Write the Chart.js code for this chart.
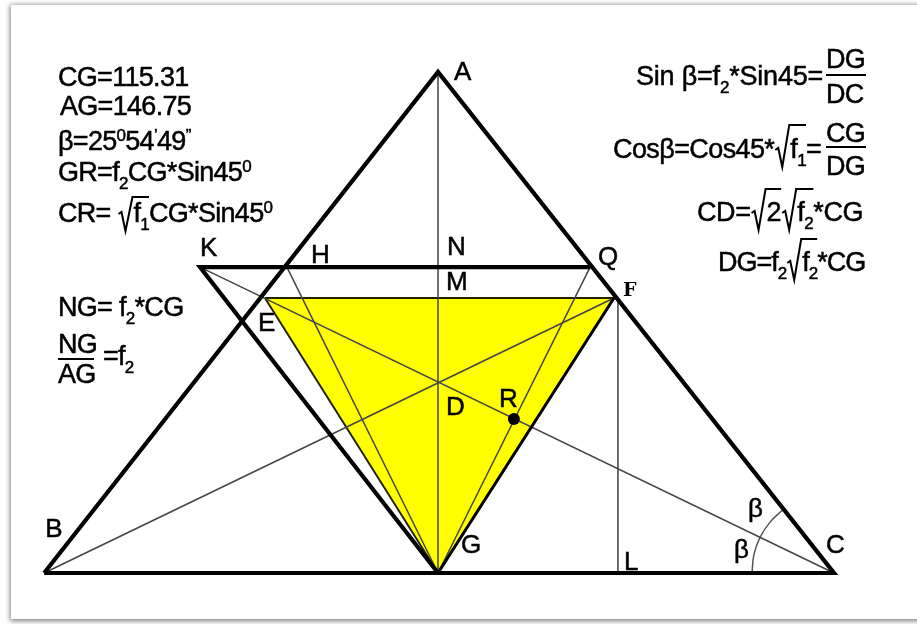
<!DOCTYPE html>
<html>
<head>
<meta charset="utf-8">
<script src="https://cdn.jsdelivr.net/npm/chart.js@4"></script>
<style>
  html, body { margin: 0; background: #fff; overflow: hidden; }
  #frame { position: absolute; left: 11px; top: 5px; width: 950px; height: 614px; background: #fff; box-shadow: 0 1px 5px 1px #808080; }
  #diagram { position: absolute; left: 0; top: 0; filter: blur(0.55px); }
</style>
</head>
<body>
<div id="frame"></div>
<canvas id="diagram" width="917" height="624"></canvas>
<script>
// ─────────────────────────────────────────────
// DATA (diagram units, G is the origin, CG = 115.31, AG = 146.75)
// ─────────────────────────────────────────────
const pointNames = ['A', 'B', 'C', 'G', 'L', 'K', 'H', 'N', 'Q', 'M', 'E', 'F', 'D', 'R'];
const pointX = [0, -114.7, 115.31, 0, 52.4, -69.3, -44, 0, 44.3, 0, -50.4, 51.25, 0, 22.1];
const pointY = [146.75, 0, 0, 0, 0, 89.6, 89.6, 89.6, 89.6, 80.55, 80.55, 80.55, 55.65, 45.1];

const outerPath = ['B', 'A', 'C', 'B'];
const parallelPath = ['Q', 'K', 'G'];
const innerPath = ['E', 'F', 'G', 'E'];
const rightEdge = ['F', 'G'];
const thinSegments = [['A', 'G'], ['K', 'C'], ['B', 'F'], ['H', 'G'], ['Q', 'G']];
const footX = [52.4, 52.4];
const footY = [80.55, 0];

const arcX = [91.44, 92.0, 93.8, 96.7, 100.2];
const arcY = [0, 5.4, 10.5, 14.9, 18.3];

const pointLabels = ['A', 'B', 'C', 'G', 'L', 'K', 'H', 'N', 'Q', 'M', 'E', 'D', 'R'];
const angleLabel = 'β';

const formulasLeft = [
    ['CG=115.31'],
    ['AG=146.75'],
    ['β=25', ['sup', '0'], '54', ['sup', '’'], '49', ['sup', '”']],
    ['GR=f', ['sub', '2'], 'CG*Sin45', ['sup', '0']],
    ['CR= ', ['rad', ['f', ['sub', '1']], 25], 'CG*Sin45', ['sup', '0']],
    ['NG= f', ['sub', '2'], '*CG'],
    ['=f', ['sub', '2']]
];
const formulasRight = [
    ['Sin', ' β=f', ['sub', '2'], '*Sin45='],
    ['Cosβ=Cos45*', ['rad', ['f', ['sub', '1']], 33], '='],
    ['CD=', ['rad', ['2'], 32], ['rad', ['f', ['sub', '2']], 32], '*CG'],
    ['DG=f', ['sub', '2'], ['rad', ['f', ['sub', '2']], 32], '*CG']
];
const fractions = [['DG', 'DC'], ['CG', 'DG'], ['NG', 'AG']];

function pt(name) {
    const i = pointNames.indexOf(name);
    return { x: pointX[i], y: pointY[i] };
}

// ─────────────────────────────────────────────
// TEXT HELPERS
// ─────────────────────────────────────────────
const FONT = '"Liberation Sans", Arial, sans-serif';

// a hair of stroke, the scanned letters are heavier than the plain face
function heavyText(ctx, text, x, y) {
    ctx.lineWidth = 0.5;
    ctx.fillText(text, x, y);
    ctx.strokeText(text, x, y);
}

function drawParts(ctx, x, y, parts, size) {
    parts.forEach(function (part) {
        if (typeof part === 'string') {
            ctx.font = size + 'px ' + FONT;
            heavyText(ctx, part, x, y);
            x += ctx.measureText(part).width;
        } else if (part[0] === 'sub' || part[0] === 'sup') {
            const small = Math.round(size * 0.64);
            ctx.font = small + 'px ' + FONT;
            heavyText(ctx, part[1], x, part[0] === 'sub' ? y + 8 : y - 9);
            x += ctx.measureText(part[1]).width;
        } else {
            // square root: hook, long stroke, then the bar over the contents
            const start = x;
            const inner = x + 16;
            const end = drawParts(ctx, inner, y, part[1], size);
            ctx.beginPath();
            ctx.lineWidth = 2;
            ctx.moveTo(start + 1, y - 8);
            ctx.lineTo(start + 4, y - 10);
            ctx.lineTo(start + 8, y + 9);
            ctx.lineTo(start + 15, y - part[2]);
            ctx.lineTo(end, y - part[2]);
            ctx.stroke();
            x = end;
        }
    });
    return x;
}

const labelPlugin = {
    id: 'labelPlugin',
    afterDatasetsDraw: function (chart) {
        const ctx = chart.ctx;
        const sx = chart.scales.x;
        const sy = chart.scales.y;
        const px = function (name) { return sx.getPixelForValue(pt(name).x); };
        const py = function (name) { return sy.getPixelForValue(pt(name).y); };

        ctx.save();
        ctx.fillStyle = '#000';
        ctx.strokeStyle = '#000';
        ctx.textAlign = 'left';
        ctx.textBaseline = 'alphabetic';
        ctx.letterSpacing = '-0.7px';

        // point letters
        const offsets = {
            A: [16, 8], B: [1, -36], C: [-8, -20], G: [23, -20], L: [6, -3],
            K: [0, -11], H: [24, -4], N: [9, -12], Q: [8, -2], M: [8, -8],
            E: [-7, 33], D: [8, 32], R: [-15, -12]
        };
        ctx.font = '26px ' + FONT;
        pointLabels.forEach(function (name) {
            heavyText(ctx, name, px(name) + offsets[name][0], py(name) + offsets[name][1]);
        });

        // F is set in another face in the original
        ctx.font = 'bold 19px "DejaVu Serif", serif';
        ctx.fillText('F', px('F') + 9, py('F') - 2);

        ctx.font = '26px ' + FONT;
        heavyText(ctx, angleLabel, px('C') - 86, py('C') - 56);
        heavyText(ctx, angleLabel, px('C') - 100, py('C') - 15);

        // formulas left
        const leftPos = [[58, 86], [60, 115], [58, 150], [58, 181], [58, 222], [58, 316], [103, 365]];
        formulasLeft.forEach(function (parts, i) {
            drawParts(ctx, leftPos[i][0], leftPos[i][1], parts, 27);
        });

        // formulas right, each row has its own tracking to end on the same edge
        const rightPos = [[636, 85], [613, 158], [697, 221], [718, 271]];
        const rightTrack = ['-0.2px', '-0.6px', '-0.4px', '-1px'];
        formulasRight.forEach(function (parts, i) {
            ctx.letterSpacing = rightTrack[i];
            drawParts(ctx, rightPos[i][0], rightPos[i][1], parts, 27);
        });
        ctx.letterSpacing = '-0.7px';

        // fractions: left, numerator baseline, bar, denominator baseline, bar end
        const fracPos = [[826, 68, 75, 103, 866], [826, 142, 147, 175, 866], [58, 353, 359, 383, 94]];
        fractions.forEach(function (f, i) {
            const p = fracPos[i];
            ctx.font = '27px ' + FONT;
            heavyText(ctx, f[0], p[0], p[1]);
            heavyText(ctx, f[1], p[0], p[3]);
            ctx.beginPath();
            ctx.lineWidth = 2;
            ctx.moveTo(p[0], p[2]);
            ctx.lineTo(p[4], p[2]);
            ctx.stroke();
        });
        ctx.restore();
    }
};

// ─────────────────────────────────────────────
// DATASETS
// ─────────────────────────────────────────────
function pathData(names) {
    return names.map(pt);
}

function lineSet(data, width, color, order) {
    return {
        data: data,
        showLine: true,
        borderColor: color,
        borderWidth: width,
        pointRadius: 0,
        fill: false,
        order: order
    };
}

const datasets = [];

// yellow triangle goes at the very back
datasets.push(Object.assign(lineSet(pathData(innerPath), 2, '#222200', 10), {
    backgroundColor: '#ffff00',
    fill: 'shape'
}));
datasets.push(lineSet(pathData(rightEdge), 3, '#000000', 4));

thinSegments.forEach(function (seg) {
    datasets.push(lineSet(pathData(seg), 1.5, '#444444', 5));
});
datasets.push(lineSet(footX.map(function (x, i) { return { x: x, y: footY[i] }; }), 1.7, '#555555', 5));
datasets.push(Object.assign(lineSet(arcX.map(function (x, i) { return { x: x, y: arcY[i] }; }), 1.5, '#555555', 5), {
    tension: 0.4
}));
datasets.push(lineSet(pathData(outerPath), 4.2, '#000000', 2));
datasets.push(lineSet(pathData(parallelPath), 4.2, '#000000', 2));

// the dot at R
datasets.push({
    data: [pt('R')],
    showLine: false,
    pointRadius: 6,
    backgroundColor: '#000',
    borderWidth: 0,
    order: 1
});

// ─────────────────────────────────────────────
// CHART
// ─────────────────────────────────────────────
new Chart(document.getElementById('diagram').getContext('2d'), {
    type: 'scatter',
    data: { datasets: datasets },
    options: {
        responsive: false,
        animation: false,
        layout: { padding: 0, autoPadding: false },
        plugins: { legend: { display: false }, tooltip: { enabled: false } },
        scales: {
            x: { type: 'linear', display: false, min: -127.55, max: 139.49 },
            y: { type: 'linear', display: false, min: -14.94, max: 167.84 }
        }
    },
    plugins: [labelPlugin]
});
</script>
</body>
</html>
